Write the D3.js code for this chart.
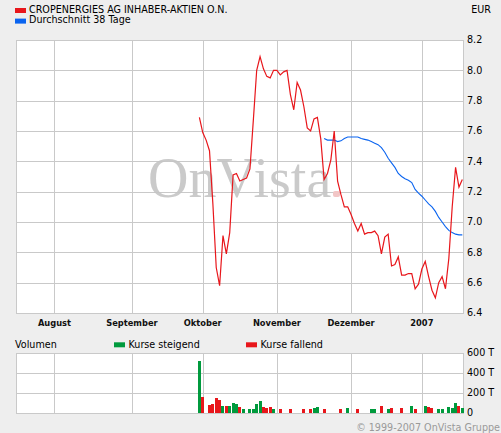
<!DOCTYPE html>
<html><head><meta charset="utf-8">
<script src="https://cdn.jsdelivr.net/npm/d3@7"></script>
<style>
html,body{margin:0;padding:0;background:#eeeeee;}
svg{display:block;}
text{font-family:"DejaVu Sans",Verdana,sans-serif;}
text.wm{font-family:"Liberation Serif","DejaVu Serif",serif;}
</style></head>
<body>
<script>
// ---------- DATA ----------
const seriesName = "CROPENERGIES AG INHABER-AKTIEN O.N.";
const maName = "Durchschnitt 38 Tage";
const currency = "EUR";
// first trading day of the series; following values are consecutive weekdays
const startDate = "2006-09-29";
const prices = [
  7.69, 7.59, 7.54, 7.47, 7.12, 6.70, 6.58, 6.91, 6.79, 6.93,
  7.31, 7.32, 7.27, 7.28, 7.29, 7.35, 7.67, 8.00, 8.09, 8.01,
  7.96, 7.95, 8.00, 8.00, 7.97, 7.99, 8.00, 7.84, 7.74, 7.92,
  7.87, 7.76, 7.62, 7.60, 7.68, 7.69, 7.55, 7.28, 7.32, 7.41,
  7.60, 7.27, 7.18, 7.10, 7.10, 7.05, 6.99, 6.94, 6.99, 6.92,
  6.93, 6.93, 6.94, 6.91, 6.79, 6.90, 6.92, 6.71, 6.72, 6.77,
  6.65, 6.65, 6.66, 6.66, 6.56, 6.59, 6.69, 6.74, 6.64, 6.55,
  6.50, 6.60, 6.64, 6.56, 6.76, 7.10, 7.36, 7.23, 7.28
];
// 38-day moving average, starting at this weekday offset into the series
const maOffset = 37;
const movingAvg = [
  7.55, 7.54, 7.54, 7.54, 7.53, 7.535, 7.55, 7.56, 7.56, 7.56,
  7.56, 7.55, 7.545, 7.54, 7.53, 7.52, 7.51, 7.49, 7.46, 7.42,
  7.39, 7.36, 7.32, 7.30, 7.285, 7.275, 7.26, 7.215, 7.19, 7.17,
  7.145, 7.12, 7.10, 7.07, 7.03, 7.00, 6.97, 6.945, 6.93, 6.92,
  6.915, 6.915
];
// volume in thousands (T), aligned with prices; 0 = no bar
const volumes = [
  523, 161, 0, 80, 90, 151, 131, 70, 70, 70,
  100, 90, 60, 40, 0, 40, 40, 90, 121, 60,
  50, 60, 40, 0, 40, 0, 0, 40, 0, 0,
  0, 40, 0, 40, 50, 60, 0, 40, 0, 0,
  0, 0, 40, 0, 50, 0, 0, 40, 0, 0,
  0, 40, 40, 0, 70, 0, 40, 50, 0, 0,
  50, 0, 0, 70, 40, 0, 0, 70, 60, 50,
  0, 40, 40, 0, 60, 50, 104, 70, 50
];
// 1 = Kurse steigend, -1 = Kurse fallend
const volTrend = [
  1, -1, 0, -1, -1, -1, -1, 1, -1, 1,
  1, 1, -1, 1, 0, 1, 1, 1, 1, -1,
  -1, -1, 1, 0, -1, 0, 0, -1, 0, 0,
  0, -1, 0, -1, 1, 1, 0, -1, 0, 0,
  0, 0, -1, 0, 1, 0, 0, -1, 0, 0,
  0, 1, 1, 0, -1, 0, 1, -1, 0, 0,
  -1, 0, 0, 1, -1, 0, 0, 1, -1, -1,
  0, 1, 1, 0, 1, 1, 1, -1, 1
];
const monthTicks = ["2006-08-01","2006-09-01","2006-10-02","2006-11-01","2006-12-01","2007-01-01"];
const monthLabels = ["August","September","Oktober","November","Dezember","2007"];
const priceTicks = [6.4, 6.6, 6.8, 7.0, 7.2, 7.4, 7.6, 7.8, 8.0, 8.2];
const volTicks = [0, 200, 400, 600];
const volTickLabels = ["0", "200 T", "400 T", "600 T"];
const volLegend = ["Volumen", "Kurse steigend", "Kurse fallend"];
const watermark = "OnVista";
const copyright = "\u00a9 1999-2007 OnVista Gruppe";

// ---------- HELPERS ----------
const RED = "#e8161b", BLUE = "#0a64f0", GREEN = "#009a3d", GRID = "#c9c9c9";
const refDay = new Date(Date.UTC(2006, 9, 2)); // Mon 2 Oct 2006 = weekday 0
function weekdayIndex(s) {
  const d = new Date(s + "T00:00:00Z");
  let n = 0;
  const step = d >= refDay ? 1 : -1;
  const cur = new Date(refDay);
  while (cur.getTime() !== d.getTime()) {
    cur.setUTCDate(cur.getUTCDate() + step);
    const wd = cur.getUTCDay();
    if (wd !== 0 && wd !== 6) n += step;
  }
  return n;
}
const startIdx = weekdayIndex(startDate);

const W = 501, H = 433;
const main = {l: 16, r: 463, t: 40, b: 313};
const vol = {t: 353, b: 413};

const x = d3.scaleLinear().domain([-55.4, 77.2]).range([main.l, main.r]);
const y = d3.scaleLinear().domain([6.4, 8.2]).range([main.b, main.t]);
const yv = d3.scaleLinear().domain([0, 600]).range([vol.b, vol.t]);

const svg = d3.select("body").append("svg").attr("width", W).attr("height", H);

// ---------- LEGEND ----------
const fs = "9.6px";
svg.append("rect").attr("x", 15).attr("y", 8).attr("width", 11).attr("height", 5).attr("fill", RED);
svg.append("text").attr("x", 29).attr("y", 12.6).attr("font-size", fs).text(seriesName);
svg.append("rect").attr("x", 15).attr("y", 18.6).attr("width", 11).attr("height", 5).attr("fill", BLUE);
svg.append("text").attr("x", 29).attr("y", 22.8).attr("font-size", fs).text(maName);
svg.append("text").attr("x", 491).attr("y", 12.6).attr("font-size", fs).attr("text-anchor", "end").text(currency);

// ---------- MAIN PANEL ----------
svg.append("rect").attr("x", main.l).attr("y", main.t).attr("width", main.r - main.l).attr("height", main.b - main.t)
  .attr("fill", "#fff");
const grid = svg.append("g").attr("stroke", GRID).attr("stroke-width", 1).attr("shape-rendering", "crispEdges");
priceTicks.forEach(v => grid.append("line").attr("x1", main.l).attr("x2", main.r).attr("y1", Math.round(y(v)) + 0.5).attr("y2", Math.round(y(v)) + 0.5));
monthTicks.forEach(m => { const xx = Math.round(x(weekdayIndex(m))) + 0.5;
  grid.append("line").attr("x1", xx).attr("x2", xx).attr("y1", main.t).attr("y2", main.b); });
grid.append("rect").attr("x", main.l + 0.5).attr("y", main.t + 0.5).attr("width", main.r - main.l).attr("height", main.b - main.t).attr("fill", "none");

// watermark
svg.append("text").attr("class", "wm").attr("x", 148).attr("y", 197)
  .attr("font-size", "56px").attr("fill", "#c4c4c4").attr("fill-opacity", 0.9).text(watermark);
svg.append("rect").attr("x", 333).attr("y", 191).attr("width", 7).attr("height", 6).attr("rx", 2).attr("fill", "#f2c6c6");

// y labels
svg.append("g").selectAll("text").data(priceTicks).join("text")
  .attr("x", 467).attr("y", d => y(d)).attr("dy", "0.36em").attr("font-size", fs)
  .text(d => d.toFixed(1));

// month labels
svg.append("g").selectAll("text").data(monthTicks).join("text")
  .attr("x", d => x(weekdayIndex(d))).attr("y", 326).attr("text-anchor", "middle")
  .attr("font-size", "8.3px").attr("font-weight", "bold").attr("fill", "#111")
  .text((d, i) => monthLabels[i]);

// lines
const priceData = prices.map((v, i) => ({i: startIdx + i, v}));
const maData = movingAvg.map((v, k) => ({i: startIdx + maOffset + k, v}));
const line = d3.line().x(d => x(d.i)).y(d => y(d.v));
svg.append("path").datum(maData).attr("d", line).attr("fill", "none").attr("stroke", BLUE).attr("stroke-width", 1.1);
svg.append("path").datum(priceData).attr("d", line).attr("fill", "none").attr("stroke", RED).attr("stroke-width", 1.2)
  .attr("stroke-linejoin", "miter");

// ---------- VOLUME PANEL ----------
svg.append("text").attr("x", 15).attr("y", 348.4).attr("font-size", fs).text(volLegend[0]);
svg.append("rect").attr("x", 114).attr("y", 342.3).attr("width", 11).attr("height", 5).attr("fill", GREEN);
svg.append("text").attr("x", 128.5).attr("y", 348.4).attr("font-size", fs).text(volLegend[1]);
svg.append("rect").attr("x", 246).attr("y", 342.3).attr("width", 11).attr("height", 5).attr("fill", RED);
svg.append("text").attr("x", 260.5).attr("y", 348.4).attr("font-size", fs).text(volLegend[2]);

svg.append("rect").attr("x", main.l).attr("y", vol.t).attr("width", main.r - main.l).attr("height", vol.b - vol.t).attr("fill", "#fff");
const vgrid = svg.append("g").attr("stroke", GRID).attr("stroke-width", 1).attr("shape-rendering", "crispEdges");
volTicks.forEach(v => vgrid.append("line").attr("x1", main.l).attr("x2", main.r).attr("y1", Math.round(yv(v)) + 0.5).attr("y2", Math.round(yv(v)) + 0.5));
monthTicks.forEach(m => { const xx = Math.round(x(weekdayIndex(m))) + 0.5;
  vgrid.append("line").attr("x1", xx).attr("x2", xx).attr("y1", vol.t).attr("y2", vol.b); });
vgrid.append("rect").attr("x", main.l + 0.5).attr("y", vol.t + 0.5).attr("width", main.r - main.l).attr("height", vol.b - vol.t).attr("fill", "none");

const volData = volumes.map((v, i) => ({i: startIdx + i, v, t: volTrend[i]})).filter(d => d.v > 0);
svg.append("g").attr("shape-rendering", "crispEdges").selectAll("rect").data(volData).join("rect")
  .attr("x", d => Math.round(x(d.i) - 1.5)).attr("width", 3)
  .attr("y", d => Math.round(yv(d.v))).attr("height", d => vol.b - Math.round(yv(d.v)))
  .attr("fill", d => d.t > 0 ? GREEN : RED);

svg.append("g").selectAll("text").data(volTicks).join("text")
  .attr("x", 467).attr("y", d => yv(d)).attr("dy", "0.36em").attr("font-size", fs)
  .text((d, i) => volTickLabels[i]);

svg.append("text").attr("x", 500).attr("y", 431).attr("text-anchor", "end").attr("font-size", fs)
  .attr("fill", "#9a9a9a").text(copyright);
</script>
</body></html>
